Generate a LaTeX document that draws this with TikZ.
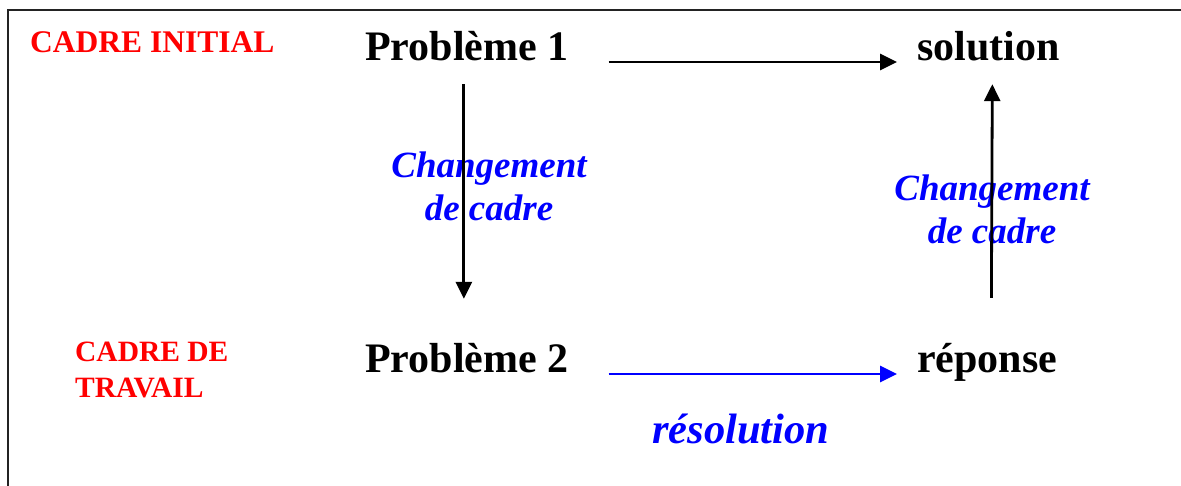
\documentclass[tikz,border=0pt]{standalone}
\usepackage{fontspec}
\setmainfont{Liberation Serif}
\usetikzlibrary{arrows.meta}
\definecolor{fr}{RGB}{255,0,0}
\definecolor{fb}{RGB}{0,0,255}
\definecolor{framecol}{RGB}{35,35,35}
\begin{document}
\begin{tikzpicture}[x=1pt,y=-1pt,
  word/.style={inner sep=0pt,anchor=base west,font=\fontsize{42}{50}\selectfont\bfseries,text height=30pt,text depth=8pt},
  cadre/.style={inner sep=0pt,text=fr,font=\bfseries},
  chg/.style={inner sep=0pt,text=fb,align=center,font=\fontsize{37}{43}\selectfont\bfseries\itshape},
  conn/.style={line width=2.8pt,-{Triangle[length=17pt,width=16pt]}}]
\useasboundingbox (0,0) rectangle (1181,486);
\draw[framecol,line width=2pt] (7.5,486) -- (7.5,10) -- (1181,10);

\node[cadre,anchor=base west,font=\fontsize{31.5}{36}\selectfont\bfseries] (ci) at (30,53) {CADRE INITIAL};
\node[cadre,anchor=west,align=left,font=\fontsize{29.5}{36}\selectfont\bfseries] (ct) at (75,370) {CADRE DE\\TRAVAIL};

\node[word] (p1) at (365,61) {Problème 1};
\node[word] (sol) at (917,61) {solution};
\node[word] (p2) at (365,373) {Problème 2};
\node[word] (rep) at (917,373) {réponse};

\node[chg] (c1) at (489,186) {Changement\\de cadre};
\node[chg] (c2) at (992,209) {Changement\\de cadre};
\node[inner sep=0pt,anchor=base west,text=fb,font=\fontsize{42.5}{50}\selectfont\bfseries\itshape] (res) at (652,443) {résolution};

\draw[conn,shorten <=40pt,shorten >=20pt] ([yshift=-1pt]p1.base east) -- ([yshift=-1pt]sol.base west);
\draw[conn,fb,shorten <=40pt,shorten >=20pt] ([yshift=-1pt]p2.base east) -- ([yshift=-1pt]rep.base west);
\draw[conn,shorten <=15pt,shorten >=44pt] ([xshift=-3pt]p1.south) -- ([xshift=-3pt]p2.north);
\draw[conn,shorten <=45pt,shorten >=15pt] ([xshift=4pt]rep.north) -- ([xshift=4pt]sol.south);
\end{tikzpicture}
\end{document}
